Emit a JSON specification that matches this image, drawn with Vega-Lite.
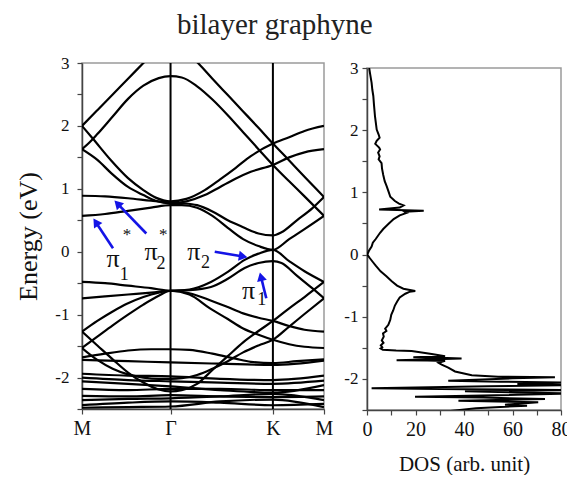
{
"$schema": "https://vega.github.io/schema/vega-lite/v6.json",
"autosize": {"type": "pad"},
"padding": {"left": 15, "top": 11, "right": 0, "bottom": 0},
"background": "white",
"title": {"text": "bilayer graphyne", "fontSize": 29, "anchor": "start", "frame": "group", "dx": 95, "offset": 13},
"config": {
 "view": {"stroke": "#9a9a9a", "strokeWidth": 1.5},
 "axis": {"labelFont": "Liberation Serif", "titleFont": "Liberation Serif", "titleFontWeight": "normal", "grid": false, "domainColor": "#444", "tickColor": "#444", "labelColor": "#111", "titleColor": "#111", "domainWidth": 1.5, "tickWidth": 1.2, "labelFlush": false, "labelOverlap": false},
 "title": {"font": "Liberation Serif", "fontWeight": "normal", "color": "#222"}
},
"datasets": {
 "bands": [
  {"b":"b1","k":0,"E":2.0},{"b":"b1","k":0.1,"E":2.25},{"b":"b1","k":0.2,"E":2.5},{"b":"b1","k":0.3,"E":2.75},{"b":"b1","k":0.4,"E":3.0},{"b":"b1","k":0.5,"E":3.25},{"b":"b1","k":0.577,"E":3.42},{"b":"b1","k":0.65,"E":3.25},{"b":"b1","k":0.756,"E":3.0},{"b":"b1","k":0.85,"E":2.75},{"b":"b1","k":0.95,"E":2.49},{"b":"b1","k":1.05,"E":2.23},{"b":"b1","k":1.15,"E":1.97},{"b":"b1","k":1.244,"E":1.72},{"b":"b1","k":1.35,"E":1.45},{"b":"b1","k":1.45,"E":1.19},{"b":"b1","k":1.577,"E":0.87},
  {"b":"b2","k":0,"E":1.63},{"b":"b2","k":0.05,"E":1.74},{"b":"b2","k":0.1,"E":1.87},{"b":"b2","k":0.2,"E":2.15},{"b":"b2","k":0.3,"E":2.43},{"b":"b2","k":0.4,"E":2.64},{"b":"b2","k":0.5,"E":2.76},{"b":"b2","k":0.577,"E":2.79},{"b":"b2","k":0.65,"E":2.77},{"b":"b2","k":0.75,"E":2.63},{"b":"b2","k":0.85,"E":2.42},{"b":"b2","k":0.95,"E":2.17},{"b":"b2","k":1.05,"E":1.9},{"b":"b2","k":1.15,"E":1.63},{"b":"b2","k":1.244,"E":1.38},{"b":"b2","k":1.35,"E":1.12},{"b":"b2","k":1.45,"E":0.88},{"b":"b2","k":1.577,"E":0.57},
  {"b":"b3","k":0,"E":2.0},{"b":"b3","k":0.07,"E":1.8},{"b":"b3","k":0.19,"E":1.45},{"b":"b3","k":0.3,"E":1.17},{"b":"b3","k":0.4,"E":0.98},{"b":"b3","k":0.48,"E":0.86},{"b":"b3","k":0.577,"E":0.8},{"b":"b3","k":0.68,"E":0.84},{"b":"b3","k":0.8,"E":0.98},{"b":"b3","k":0.9,"E":1.15},{"b":"b3","k":1.0,"E":1.33},{"b":"b3","k":1.1,"E":1.52},{"b":"b3","k":1.244,"E":1.72},{"b":"b3","k":1.35,"E":1.82},{"b":"b3","k":1.45,"E":1.92},{"b":"b3","k":1.577,"E":2.0},
  {"b":"b4","k":0,"E":1.63},{"b":"b4","k":0.1,"E":1.46},{"b":"b4","k":0.19,"E":1.25},{"b":"b4","k":0.3,"E":1.03},{"b":"b4","k":0.4,"E":0.9},{"b":"b4","k":0.48,"E":0.81},{"b":"b4","k":0.577,"E":0.77},{"b":"b4","k":0.68,"E":0.8},{"b":"b4","k":0.8,"E":0.9},{"b":"b4","k":0.9,"E":1.03},{"b":"b4","k":1.0,"E":1.16},{"b":"b4","k":1.1,"E":1.27},{"b":"b4","k":1.244,"E":1.38},{"b":"b4","k":1.35,"E":1.5},{"b":"b4","k":1.45,"E":1.58},{"b":"b4","k":1.577,"E":1.63},
  {"b":"c2","k":0,"E":0.89},{"b":"c2","k":0.15,"E":0.88},{"b":"c2","k":0.3,"E":0.85},{"b":"c2","k":0.45,"E":0.81},{"b":"c2","k":0.577,"E":0.78},{"b":"c2","k":0.65,"E":0.77},{"b":"c2","k":0.75,"E":0.74},{"b":"c2","k":0.85,"E":0.64},{"b":"c2","k":0.95,"E":0.5},{"b":"c2","k":1.05,"E":0.39},{"b":"c2","k":1.15,"E":0.29},{"b":"c2","k":1.244,"E":0.26},{"b":"c2","k":1.3,"E":0.31},{"b":"c2","k":1.4,"E":0.5},{"b":"c2","k":1.5,"E":0.69},{"b":"c2","k":1.577,"E":0.87},
  {"b":"c1","k":0,"E":0.57},{"b":"c1","k":0.15,"E":0.6},{"b":"c1","k":0.3,"E":0.65},{"b":"c1","k":0.45,"E":0.7},{"b":"c1","k":0.577,"E":0.74},{"b":"c1","k":0.65,"E":0.74},{"b":"c1","k":0.75,"E":0.7},{"b":"c1","k":0.85,"E":0.57},{"b":"c1","k":0.95,"E":0.38},{"b":"c1","k":1.05,"E":0.2},{"b":"c1","k":1.15,"E":0.09},{"b":"c1","k":1.244,"E":0.03},{"b":"c1","k":1.35,"E":0.2},{"b":"c1","k":1.45,"E":0.36},{"b":"c1","k":1.577,"E":0.57},
  {"b":"v2","k":0,"E":-0.48},{"b":"v2","k":0.15,"E":-0.5},{"b":"v2","k":0.3,"E":-0.54},{"b":"v2","k":0.45,"E":-0.58},{"b":"v2","k":0.577,"E":-0.62},{"b":"v2","k":0.7,"E":-0.6},{"b":"v2","k":0.84,"E":-0.48},{"b":"v2","k":0.95,"E":-0.32},{"b":"v2","k":1.06,"E":-0.13},{"b":"v2","k":1.15,"E":-0.03},{"b":"v2","k":1.244,"E":0.03},{"b":"v2","k":1.35,"E":-0.15},{"b":"v2","k":1.45,"E":-0.31},{"b":"v2","k":1.577,"E":-0.48},
  {"b":"v1","k":0,"E":-0.74},{"b":"v1","k":0.15,"E":-0.71},{"b":"v1","k":0.3,"E":-0.68},{"b":"v1","k":0.45,"E":-0.65},{"b":"v1","k":0.577,"E":-0.62},{"b":"v1","k":0.7,"E":-0.61},{"b":"v1","k":0.84,"E":-0.56},{"b":"v1","k":0.95,"E":-0.43},{"b":"v1","k":1.06,"E":-0.26},{"b":"v1","k":1.15,"E":-0.18},{"b":"v1","k":1.244,"E":-0.15},{"b":"v1","k":1.3,"E":-0.18},{"b":"v1","k":1.4,"E":-0.38},{"b":"v1","k":1.5,"E":-0.58},{"b":"v1","k":1.577,"E":-0.74},
  {"b":"l3","k":0,"E":-1.27},{"b":"l3","k":0.1,"E":-1.1},{"b":"l3","k":0.2,"E":-0.95},{"b":"l3","k":0.3,"E":-0.82},{"b":"l3","k":0.4,"E":-0.72},{"b":"l3","k":0.5,"E":-0.65},{"b":"l3","k":0.577,"E":-0.62},{"b":"l3","k":0.7,"E":-0.66},{"b":"l3","k":0.834,"E":-0.77},{"b":"l3","k":0.95,"E":-0.88},{"b":"l3","k":1.05,"E":-0.98},{"b":"l3","k":1.15,"E":-1.05},{"b":"l3","k":1.244,"E":-1.1},{"b":"l3","k":1.35,"E":-1.18},{"b":"l3","k":1.45,"E":-1.24},{"b":"l3","k":1.577,"E":-1.27},
  {"b":"l4","k":0,"E":-1.53},{"b":"l4","k":0.1,"E":-1.35},{"b":"l4","k":0.2,"E":-1.17},{"b":"l4","k":0.3,"E":-1.0},{"b":"l4","k":0.4,"E":-0.84},{"b":"l4","k":0.5,"E":-0.7},{"b":"l4","k":0.577,"E":-0.62},{"b":"l4","k":0.7,"E":-0.68},{"b":"l4","k":0.834,"E":-0.9},{"b":"l4","k":0.95,"E":-1.07},{"b":"l4","k":1.05,"E":-1.22},{"b":"l4","k":1.15,"E":-1.32},{"b":"l4","k":1.244,"E":-1.4},{"b":"l4","k":1.35,"E":-1.47},{"b":"l4","k":1.45,"E":-1.51},{"b":"l4","k":1.577,"E":-1.53},
  {"b":"l1","k":0,"E":-1.27},{"b":"l1","k":0.1,"E":-1.49},{"b":"l1","k":0.2,"E":-1.71},{"b":"l1","k":0.3,"E":-1.92},{"b":"l1","k":0.4,"E":-2.08},{"b":"l1","k":0.5,"E":-2.19},{"b":"l1","k":0.577,"E":-2.22},{"b":"l1","k":0.65,"E":-2.2},{"b":"l1","k":0.75,"E":-2.1},{"b":"l1","k":0.85,"E":-1.88},{"b":"l1","k":0.95,"E":-1.66},{"b":"l1","k":1.05,"E":-1.44},{"b":"l1","k":1.15,"E":-1.26},{"b":"l1","k":1.244,"E":-1.1},{"b":"l1","k":1.35,"E":-0.9},{"b":"l1","k":1.45,"E":-0.72},{"b":"l1","k":1.577,"E":-0.48},
  {"b":"l2","k":0,"E":-1.53},{"b":"l2","k":0.1,"E":-1.72},{"b":"l2","k":0.2,"E":-1.86},{"b":"l2","k":0.3,"E":-1.95},{"b":"l2","k":0.4,"E":-2.0},{"b":"l2","k":0.5,"E":-2.02},{"b":"l2","k":0.577,"E":-2.02},{"b":"l2","k":0.65,"E":-2.01},{"b":"l2","k":0.75,"E":-1.96},{"b":"l2","k":0.85,"E":-1.86},{"b":"l2","k":0.95,"E":-1.74},{"b":"l2","k":1.05,"E":-1.6},{"b":"l2","k":1.15,"E":-1.49},{"b":"l2","k":1.244,"E":-1.4},{"b":"l2","k":1.35,"E":-1.19},{"b":"l2","k":1.45,"E":-0.99},{"b":"l2","k":1.577,"E":-0.74},
  {"b":"la","k":0,"E":-1.68},{"b":"la","k":0.15,"E":-1.62},{"b":"la","k":0.3,"E":-1.57},{"b":"la","k":0.45,"E":-1.55},{"b":"la","k":0.577,"E":-1.55},{"b":"la","k":0.7,"E":-1.56},{"b":"la","k":0.85,"E":-1.62},{"b":"la","k":1.0,"E":-1.7},{"b":"la","k":1.1,"E":-1.75},{"b":"la","k":1.244,"E":-1.77},{"b":"la","k":1.4,"E":-1.74},{"b":"la","k":1.577,"E":-1.71},
  {"b":"f1","k":0,"E":-1.72},{"b":"f1","k":0.3,"E":-1.74},{"b":"f1","k":0.577,"E":-1.76},{"b":"f1","k":0.9,"E":-1.78},{"b":"f1","k":1.244,"E":-1.8},{"b":"f1","k":1.577,"E":-1.73},
  {"b":"f2","k":0,"E":-1.94},{"b":"f2","k":0.3,"E":-1.97},{"b":"f2","k":0.577,"E":-1.98},{"b":"f2","k":0.9,"E":-2.02},{"b":"f2","k":1.244,"E":-2.04},{"b":"f2","k":1.577,"E":-1.97},
  {"b":"f3","k":0,"E":-2.0},{"b":"f3","k":0.3,"E":-2.04},{"b":"f3","k":0.577,"E":-2.06},{"b":"f3","k":0.9,"E":-2.08},{"b":"f3","k":1.244,"E":-2.1},{"b":"f3","k":1.577,"E":-2.05},
  {"b":"f4","k":0,"E":-2.06},{"b":"f4","k":0.3,"E":-2.1},{"b":"f4","k":0.577,"E":-2.14},{"b":"f4","k":0.9,"E":-2.2},{"b":"f4","k":1.244,"E":-2.24},{"b":"f4","k":1.577,"E":-2.12},
  {"b":"f5","k":0,"E":-2.18},{"b":"f5","k":0.3,"E":-2.2},{"b":"f5","k":0.577,"E":-2.18},{"b":"f5","k":0.9,"E":-2.18},{"b":"f5","k":1.244,"E":-2.2},{"b":"f5","k":1.577,"E":-2.2},
  {"b":"f6","k":0,"E":-2.29},{"b":"f6","k":0.3,"E":-2.3},{"b":"f6","k":0.577,"E":-2.28},{"b":"f6","k":0.9,"E":-2.3},{"b":"f6","k":1.244,"E":-2.31},{"b":"f6","k":1.577,"E":-2.3},
  {"b":"f7","k":0,"E":-2.36},{"b":"f7","k":0.3,"E":-2.34},{"b":"f7","k":0.577,"E":-2.33},{"b":"f7","k":0.9,"E":-2.3},{"b":"f7","k":1.244,"E":-2.26},{"b":"f7","k":1.577,"E":-2.36},
  {"b":"f8","k":0,"E":-2.44},{"b":"f8","k":0.3,"E":-2.4},{"b":"f8","k":0.577,"E":-2.38},{"b":"f8","k":0.9,"E":-2.4},{"b":"f8","k":1.244,"E":-2.44},{"b":"f8","k":1.577,"E":-2.42},
  {"b":"f9","k":0,"E":-2.48},{"b":"f9","k":0.3,"E":-2.47},{"b":"f9","k":0.577,"E":-2.46},{"b":"f9","k":0.9,"E":-2.38},{"b":"f9","k":1.244,"E":-2.35},{"b":"f9","k":1.577,"E":-2.47}
 ],
 "sym": [{"p":"Γ","k":0.577,"E":-2.5,"E2":3},{"p":"K","k":1.244,"E":-2.5,"E2":3}],
 "arrows": [
  {"lab":"pi1*","k":0.202,"E":0.054,"k2":0.090,"E2":0.469},
  {"lab":"pi2*","k":0.419,"E":0.29,"k2":0.231,"E2":0.765},
  {"lab":"pi2","k":0.865,"E":0.0,"k2":1.050,"E2":-0.076},
  {"lab":"pi1","k":1.201,"E":-0.74,"k2":1.166,"E2":-0.396}
 ],
 "labels": [
  {"role":"sym","t":"π","k":0.202,"E":-0.11},{"role":"sub","t":"1","k":0.275,"E":-0.37},{"role":"sup","t":"*","k":0.294,"E":0.26},
  {"role":"sym","t":"π","k":0.45,"E":-0.01},{"role":"sub","t":"2","k":0.515,"E":-0.19},{"role":"sup","t":"*","k":0.529,"E":0.26},
  {"role":"sym","t":"π","k":0.729,"E":0.0},{"role":"sub","t":"2","k":0.805,"E":-0.18},
  {"role":"sym","t":"π","k":1.085,"E":-0.62},{"role":"sub","t":"1","k":1.171,"E":-0.77}
 ],
 "dos": [
  {"i":1,"d":0.9,"E":3.0},{"i":2,"d":1.3,"E":2.9},{"i":3,"d":1.9,"E":2.76},{"i":4,"d":2.2,"E":2.65},{"i":5,"d":2.6,"E":2.55},{"i":6,"d":2.9,"E":2.4},{"i":7,"d":3.3,"E":2.22},{"i":8,"d":3.7,"E":2.1},{"i":9,"d":4.0,"E":2.01},{"i":10,"d":4.8,"E":1.93},
  {"i":11,"d":5.2,"E":1.88},{"i":12,"d":4.0,"E":1.83},{"i":13,"d":3.4,"E":1.78},{"i":14,"d":5.0,"E":1.72},{"i":15,"d":5.4,"E":1.69},{"i":16,"d":4.6,"E":1.64},{"i":17,"d":5.2,"E":1.58},{"i":18,"d":4.8,"E":1.53},{"i":19,"d":6.0,"E":1.47},{"i":20,"d":6.2,"E":1.38},
  {"i":21,"d":6.7,"E":1.28},{"i":22,"d":7.3,"E":1.18},{"i":23,"d":8.1,"E":1.1},{"i":24,"d":9.0,"E":1.0},{"i":25,"d":9.6,"E":0.93},{"i":26,"d":11.5,"E":0.86},{"i":27,"d":13.2,"E":0.82},{"i":28,"d":15.1,"E":0.79},{"i":29,"d":13.5,"E":0.755},{"i":30,"d":5.0,"E":0.725},
  {"i":31,"d":23.4,"E":0.705},{"i":32,"d":15.5,"E":0.69},{"i":33,"d":16.4,"E":0.67},{"i":34,"d":13.5,"E":0.63},{"i":35,"d":11.0,"E":0.57},{"i":36,"d":8.8,"E":0.49},{"i":37,"d":6.7,"E":0.41},{"i":38,"d":5.4,"E":0.35},{"i":39,"d":3.6,"E":0.25},{"i":40,"d":2.4,"E":0.19},
  {"i":41,"d":1.9,"E":0.13},{"i":42,"d":0.8,"E":0.06},{"i":43,"d":0.1,"E":0.0},{"i":44,"d":1.2,"E":-0.06},{"i":45,"d":2.4,"E":-0.12},{"i":46,"d":3.6,"E":-0.18},{"i":47,"d":5.6,"E":-0.27},{"i":48,"d":8.0,"E":-0.35},{"i":49,"d":10.2,"E":-0.43},{"i":50,"d":12.4,"E":-0.5},
  {"i":51,"d":15.0,"E":-0.55},{"i":52,"d":19.9,"E":-0.585},{"i":53,"d":17.5,"E":-0.6},{"i":54,"d":15.8,"E":-0.63},{"i":55,"d":13.5,"E":-0.69},{"i":56,"d":12.5,"E":-0.75},{"i":57,"d":11.5,"E":-0.82},{"i":58,"d":10.8,"E":-0.9},{"i":59,"d":10.0,"E":-0.97},{"i":60,"d":9.6,"E":-1.05},
  {"i":61,"d":8.8,"E":-1.13},{"i":62,"d":7.5,"E":-1.19},{"i":63,"d":8.0,"E":-1.23},{"i":64,"d":6.6,"E":-1.27},{"i":65,"d":6.9,"E":-1.32},{"i":66,"d":6.1,"E":-1.38},{"i":67,"d":6.8,"E":-1.42},{"i":68,"d":5.7,"E":-1.46},{"i":69,"d":6.3,"E":-1.49},{"i":70,"d":5.6,"E":-1.51},
  {"i":71,"d":6.5,"E":-1.53},{"i":72,"d":12,"E":-1.545},{"i":73,"d":18.4,"E":-1.55},{"i":74,"d":26.7,"E":-1.6},{"i":75,"d":32.2,"E":-1.635},{"i":76,"d":19.1,"E":-1.65},{"i":77,"d":30,"E":-1.66},{"i":78,"d":39,"E":-1.67},{"i":79,"d":28,"E":-1.685},{"i":80,"d":12.2,"E":-1.7},
  {"i":81,"d":25,"E":-1.705},{"i":82,"d":32.2,"E":-1.71},{"i":83,"d":29.5,"E":-1.74},{"i":84,"d":30.8,"E":-1.77},{"i":85,"d":33.5,"E":-1.82},{"i":86,"d":36.3,"E":-1.88},{"i":87,"d":43.2,"E":-1.94},{"i":88,"d":54.1,"E":-1.965},{"i":89,"d":77.5,"E":-1.975},{"i":90,"d":60,"E":-1.99},
  {"i":91,"d":33.5,"E":-2.03},{"i":92,"d":55,"E":-2.045},{"i":93,"d":84,"E":-2.06},{"i":94,"d":62,"E":-2.08},{"i":95,"d":84,"E":-2.1},{"i":96,"d":50,"E":-2.12},{"i":97,"d":1.9,"E":-2.15},{"i":98,"d":40,"E":-2.165},{"i":99,"d":84,"E":-2.18},{"i":100,"d":40.4,"E":-2.2},
  {"i":101,"d":84,"E":-2.235},{"i":102,"d":62,"E":-2.255},{"i":103,"d":19.8,"E":-2.285},{"i":104,"d":48,"E":-2.3},{"i":105,"d":73.4,"E":-2.325},{"i":106,"d":37.7,"E":-2.35},{"i":107,"d":70.6,"E":-2.375},{"i":108,"d":56.9,"E":-2.415},{"i":109,"d":66,"E":-2.43},{"i":110,"d":45,"E":-2.47},
  {"i":111,"d":33.5,"E":-2.52}
 ]
},
"hconcat": [
 {
  "width": 242, "height": 346,
  "encoding": {
   "x": {"field": "k", "type": "quantitative", "scale": {"domain": [0, 1.577], "nice": false, "zero": false},
    "axis": {"title": null, "values": [0, 0.577, 1.244, 1.577], "labelExpr": "datum.value < 0.1 ? 'M' : datum.value < 1 ? 'Γ' : datum.value < 1.4 ? 'K' : 'M'", "labelFontSize": 20, "tickSize": 5, "labelPadding": 4}},
   "y": {"field": "E", "type": "quantitative", "scale": {"domain": [-2.5, 3], "nice": false, "zero": false},
    "axis": {"title": "Energy (eV)", "titleFontSize": 26, "values": [-2.5, -2, -1.5, -1, -0.5, 0, 0.5, 1, 1.5, 2, 2.5, 3], "labelExpr": "datum.value % 1 === 0 ? '' + datum.value : ''", "labelFontSize": 17, "tickSize": 5, "labelPadding": 8, "titlePadding": 13}}
  },
  "layer": [
   {
    "data": {"name": "bands"},
    "mark": {"type": "line", "interpolate": "monotone", "color": "black", "strokeWidth": 2.2, "clip": true},
    "encoding": {"detail": {"field": "b", "type": "nominal"}}
   },
   {
    "data": {"name": "sym"},
    "mark": {"type": "rule", "color": "black", "strokeWidth": 2},
    "encoding": {"y2": {"field": "E2"}}
   },
   {
    "data": {"name": "arrows"},
    "mark": {"type": "rule", "color": "#1414e6", "strokeWidth": 2.6},
    "encoding": {"x2": {"field": "k2"}, "y2": {"field": "E2"}}
   },
   {
    "data": {"name": "arrows"},
    "transform": [{"calculate": "atan2((datum.k2 - datum.k) * 153.45, (datum.E2 - datum.E) * 62.9) * 180 / PI", "as": "dir"}],
    "mark": {"type": "point", "shape": "triangle-up", "filled": true, "color": "#1414e6", "size": 100, "opacity": 1},
    "encoding": {
     "x": {"field": "k2", "type": "quantitative"},
     "y": {"field": "E2", "type": "quantitative"},
     "angle": {"field": "dir", "type": "quantitative", "scale": null}
    }
   },
   {
    "data": {"name": "labels"},
    "transform": [{"filter": "datum.role == 'sym'"}],
    "mark": {"type": "text", "font": "Liberation Serif", "fontSize": 26, "color": "#111", "align": "center", "baseline": "middle"},
    "encoding": {"text": {"field": "t"}}
   },
   {
    "data": {"name": "labels"},
    "transform": [{"filter": "datum.role == 'sub'"}],
    "mark": {"type": "text", "font": "Liberation Serif", "fontSize": 18, "color": "#111", "align": "center", "baseline": "middle"},
    "encoding": {"text": {"field": "t"}}
   },
   {
    "data": {"name": "labels"},
    "transform": [{"filter": "datum.role == 'sup'"}],
    "mark": {"type": "text", "font": "Liberation Serif", "fontSize": 17, "color": "#111", "align": "center", "baseline": "middle"},
    "encoding": {"text": {"field": "t"}}
   }
  ]
 },
 {
  "vconcat": [
   {
    "width": 194, "height": 5,
    "view": {"stroke": null},
    "data": {"values": [{"a": 1}]},
    "mark": {"type": "point", "opacity": 0},
    "encoding": {}
   },
   {
    "width": 194, "height": 342,
    "data": {"name": "dos"},
    "mark": {"type": "line", "color": "black", "strokeWidth": 2, "clip": true},
    "encoding": {
     "x": {"field": "d", "type": "quantitative", "scale": {"domain": [0, 80], "nice": false, "zero": false},
      "axis": {"title": "DOS (arb. unit)", "titleFontSize": 21, "values": [0, 10, 20, 30, 40, 50, 60, 70, 80], "labelExpr": "datum.value % 20 === 0 ? '' + datum.value : ''", "labelFontSize": 20, "tickSize": 5, "labelPadding": 4, "titlePadding": 14}},
     "y": {"field": "E", "type": "quantitative", "scale": {"domain": [-2.5, 3], "nice": false, "zero": false},
      "axis": {"title": null, "values": [-2.5, -2, -1.5, -1, -0.5, 0, 0.5, 1, 1.5, 2, 2.5, 3], "labelExpr": "datum.value % 1 === 0 ? '' + datum.value : ''", "labelFontSize": 17, "tickSize": 5, "labelPadding": 4}},
     "order": {"field": "i", "type": "quantitative"}
    }
   }
  ],
  "spacing": 0,
  "bounds": "flush"
 }
],
"spacing": 43,
"bounds": "flush"
}
